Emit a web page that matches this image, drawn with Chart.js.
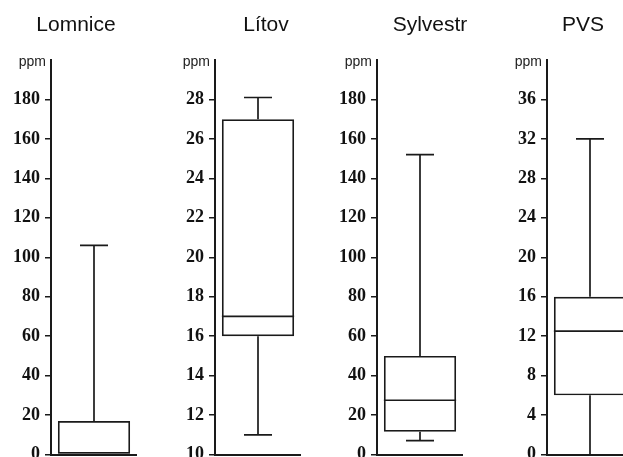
<!DOCTYPE html>
<html>
<head>
<meta charset="utf-8">
<script src="https://cdn.jsdelivr.net/npm/chart.js@4.4.0/dist/chart.umd.min.js"></script>
<style>
  html, body { margin: 0; padding: 0; background: #fff; overflow: hidden; }
  #wrap { position: relative; width: 623px; height: 457px; overflow: hidden; }
  .panel { position: absolute; top: 0; }
  .title {
    position: absolute; top: 12px; width: 140px; margin-left: -70px;
    text-align: center; font: 21px "Liberation Sans", Arial, sans-serif; color: #111;
  }
</style>
</head>
<body>
<div id="wrap"></div>
<script>
// Box plot values per site (ppm)
const sites = ['Lomnice', 'Lítov', 'Sylvestr', 'PVS'];
const minVals = [0, 11, 7, 0];
const q1Vals = [0, 16, 11.5, 6];
const medianVals = [0, 17, 27.5, 12.5];
const q3Vals = [17, 27, 50, 16];
const maxVals = [106, 28.1, 152, 32];

// y axis ranges of each panel
const axisMin = [0, 10, 0, 0];
const axisMax = [200, 30, 200, 40];
const axisStep = [20, 2, 20, 4];

// where each panel's y axis sits, and where its title is centred
const axisX = [51, 215, 377, 547];
const titleX = [76, 266, 430, 583];

const AXIS_W = 51;    // space reserved for tick labels
const PLOT_W = 86;    // width of the plotting area
const H = 457;

// whiskers, caps and median line drawn through the chart scales
const whiskerPlugin = {
    id: 'whiskers',
    afterDatasetsDraw(chart, args, opts) {
        const i = opts.index;
        const y = chart.scales.y;
        const bar = chart.getDatasetMeta(0).data[0];
        const half = bar.width / 2;
        const cx = bar.x;
        const ctx = chart.ctx;
        ctx.save();
        ctx.strokeStyle = '#1a1a1a';
        ctx.lineWidth = 1.7;
        ctx.beginPath();
        // upper whisker + cap
        ctx.moveTo(cx, y.getPixelForValue(q3Vals[i]));
        ctx.lineTo(cx, y.getPixelForValue(maxVals[i]));
        ctx.moveTo(cx - 14, y.getPixelForValue(maxVals[i]));
        ctx.lineTo(cx + 14, y.getPixelForValue(maxVals[i]));
        // lower whisker + cap
        if (minVals[i] < q1Vals[i]) {
            ctx.moveTo(cx, y.getPixelForValue(q1Vals[i]));
            ctx.lineTo(cx, y.getPixelForValue(minVals[i]));
            if (minVals[i] > axisMin[i]) {
                ctx.moveTo(cx - 14, y.getPixelForValue(minVals[i]));
                ctx.lineTo(cx + 14, y.getPixelForValue(minVals[i]));
            }
        }
        // median
        ctx.moveTo(cx - half, y.getPixelForValue(medianVals[i]));
        ctx.lineTo(cx + half, y.getPixelForValue(medianVals[i]));
        ctx.stroke();

        // unit label at top of the axis
        ctx.fillStyle = '#222';
        ctx.font = '14px "Liberation Sans", Arial, sans-serif';
        ctx.textAlign = 'right';
        ctx.textBaseline = 'alphabetic';
        ctx.fillText('ppm', chart.chartArea.left - 5, chart.chartArea.top + 6);
        ctx.restore();
    }
};

const wrap = document.getElementById('wrap');

sites.forEach((site, i) => {
    const div = document.createElement('div');
    div.className = 'panel';
    div.style.left = (axisX[i] - AXIS_W) + 'px';
    const canvas = document.createElement('canvas');
    canvas.width = AXIS_W + PLOT_W;
    canvas.height = H;
    div.appendChild(canvas);
    wrap.appendChild(div);

    const t = document.createElement('div');
    t.className = 'title';
    t.style.left = titleX[i] + 'px';
    t.textContent = site;
    wrap.appendChild(t);

    new Chart(canvas, {
        type: 'bar',
        data: {
            labels: [site],
            datasets: [{
                data: [[q1Vals[i], q3Vals[i]]],
                backgroundColor: 'rgba(255,255,255,0)',
                borderColor: '#1a1a1a',
                borderWidth: 1.7,
                borderSkipped: false,
                categoryPercentage: 1,
                barPercentage: 0.84
            }]
        },
        options: {
            responsive: false,
            animation: false,
            layout: { padding: { top: 60, right: 0, bottom: 0, left: 0 } },
            plugins: {
                legend: { display: false },
                tooltip: { enabled: false },
                whiskers: { index: i }
            },
            scales: {
                x: {
                    grid: { display: false },
                    ticks: { display: false },
                    border: { color: '#1a1a1a', width: 2 },
                    afterFit: (s) => { s.height = 2.5; s.paddingLeft = 0; s.paddingRight = 0; }
                },
                y: {
                    min: axisMin[i],
                    max: axisMax[i],
                    // fixed label column, and let the "0" label run off the bottom edge
                    afterFit: (s) => { s.width = AXIS_W; s.paddingTop = 0; s.paddingBottom = 0; },
                    // no tick at the very top of the axis
                    afterBuildTicks: (s) => { s.ticks = s.ticks.filter(tk => tk.value < axisMax[i]); },
                    ticks: {
                        stepSize: axisStep[i],
                        color: '#111',
                        padding: 5,
                        font: { family: '"Liberation Serif", "Times New Roman", serif', size: 18, weight: 'bold' }
                    },
                    grid: {
                        drawOnChartArea: false,
                        color: '#1a1a1a',
                        lineWidth: 1.5,
                        tickLength: 6
                    },
                    border: { color: '#1a1a1a', width: 2 }
                }
            }
        },
        plugins: [whiskerPlugin]
    });
});
</script>
</body>
</html>
